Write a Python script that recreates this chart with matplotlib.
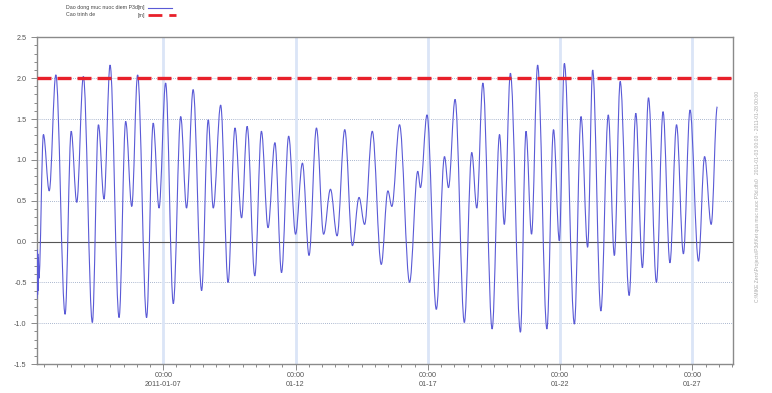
import matplotlib
matplotlib.use('Agg')
import matplotlib.pyplot as plt
import matplotlib.dates as mdates
from matplotlib.lines import Line2D
from matplotlib.path import Path
from matplotlib.patches import PathPatch
from matplotlib.ticker import MultipleLocator
import numpy as np
import pandas as pd

plt.rcParams['font.family'] = ['Liberation Sans', 'DejaVu Sans']

# water level extrema: day of January 2011 (decimal) and level [m]
jan_day = [2.23, 2.24, 2.25, 2.26, 2.27, 2.28, 2.30,
           2.47, 2.69, 2.94, 3.29, 3.52, 3.73, 3.98, 4.32, 4.55, 4.76,
           4.99, 5.33, 5.58, 5.81, 6.03, 6.37, 6.62, 6.84, 7.09, 7.38,
           7.66, 7.88, 8.13, 8.45, 8.70, 8.89, 9.17, 9.45, 9.71, 9.96,
           10.17, 10.46, 10.71, 10.96, 11.22, 11.47, 11.74, 12.00, 12.26, 12.51,
           12.79, 13.06, 13.32, 13.57, 13.86, 14.15, 14.40, 14.61, 14.90, 15.24,
           15.49, 15.64, 15.93, 16.31, 16.62, 16.72, 16.97, 17.32, 17.63, 17.78,
           18.03, 18.38, 18.66, 18.85, 19.08, 19.43, 19.71, 19.89, 20.12, 20.50,
           20.71, 20.92, 21.15, 21.50, 21.75, 21.97, 22.16, 22.54, 22.79, 23.04,
           23.23, 23.54, 23.82, 24.05, 24.27, 24.61, 24.86, 25.11, 25.34, 25.64,
           25.89, 26.15, 26.40, 26.66, 26.91, 27.23, 27.46, 27.71, 27.94]
water_level = [-0.70, -0.10, -0.65, -0.15, -0.60, -0.20, -0.45,
               1.31, 0.62, 2.04, -0.89, 1.35, 0.48, 2.02, -0.99, 1.43, 0.52,
               2.16, -0.93, 1.47, 0.43, 2.04, -0.93, 1.45, 0.41, 1.94, -0.76,
               1.53, 0.41, 1.86, -0.60, 1.49, 0.41, 1.67, -0.50, 1.39, 0.29,
               1.41, -0.42, 1.35, 0.17, 1.21, -0.38, 1.29, 0.09, 0.96, -0.17,
               1.39, 0.09, 0.64, 0.07, 1.37, -0.05, 0.54, 0.21, 1.35, -0.28,
               0.62, 0.43, 1.43, -0.50, 0.86, 0.66, 1.55, -0.83, 1.04, 0.66,
               1.74, -0.99, 1.09, 0.41, 1.94, -1.07, 1.31, 0.21, 2.06, -1.11,
               1.35, 0.09, 2.16, -1.07, 1.37, 0.01, 2.18, -1.01, 1.53, -0.07,
               2.10, -0.85, 1.55, -0.17, 1.96, -0.66, 1.57, -0.32, 1.76, -0.50,
               1.59, -0.26, 1.43, -0.15, 1.61, -0.24, 1.04, 0.21, 1.65]
levee_level = 2.0  # Cao trinh de [m]

x_range = [2.23, 28.52]
y_range = [-1.5, 2.5]

series_label = 'Dao dong muc nuoc diem P3d'
levee_label = 'Cao trinh de'
unit = '[m]'


def to_time(days):
    return pd.Timestamp('2011-01-01') + pd.to_timedelta(np.asarray(days) - 1, unit='D')


def tide_path(tx, y):
    # smooth curve through the turning points (flat at each high / low water)
    verts = [(tx[0], y[0])]
    codes = [Path.MOVETO]
    for i in range(1, len(tx)):
        dt = tx[i] - tx[i - 1]
        verts += [(tx[i - 1] + 0.36 * dt, y[i - 1]), (tx[i] - 0.36 * dt, y[i]), (tx[i], y[i])]
        codes += [Path.CURVE4] * 3
    return Path(verts, codes)


fig = plt.figure(figsize=(7.72, 3.93), dpi=100)
ax = fig.add_axes([0.048, 0.0735, 0.901, 0.8316])

t = mdates.date2num(to_time(jan_day))
ax.add_patch(PathPatch(tide_path(t, water_level), fill=False, edgecolor='#5a5ad6',
                       lw=0.8, zorder=3))
ax.axhline(levee_level, color='#e8202a', lw=2.4, dashes=(4.2, 1.8), zorder=4)

ax.xaxis_date()
ax.set_xlim(to_time(x_range))
ax.set_ylim(y_range)

# grid
for yv in np.arange(-1.0, 2.01, 0.5):
    if abs(yv) < 1e-9:
        ax.axhline(0, color='#555555', lw=0.8, zorder=2)
    else:
        ax.axhline(yv, color='#8fa0c0', lw=0.6, ls=(0, (1, 1.5)), zorder=1)
ax.xaxis.set_major_locator(mdates.DayLocator(bymonthday=[7, 12, 17, 22, 27]))
ax.xaxis.set_minor_locator(mdates.HourLocator(byhour=[0, 12]))
ax.grid(axis='x', which='major', color='#dbe5f7', lw=2.0, zorder=0)


def fmt(x, pos):
    d = mdates.num2date(x)
    if pos == 0:
        return d.strftime('%H:%M\n%Y-%m-%d')
    return d.strftime('%H:%M\n%m-%d')


ax.xaxis.set_major_formatter(plt.FuncFormatter(fmt))
ax.yaxis.set_major_locator(MultipleLocator(0.5))
ax.yaxis.set_minor_locator(MultipleLocator(0.1))
ax.yaxis.set_major_formatter(plt.FuncFormatter(lambda v, p: f'{v:.1f}'))

ax.tick_params(which='both', direction='out', colors='#777777', labelcolor='#555555',
               labelsize=5.2, width=0.6)
ax.tick_params(which='major', length=4)
ax.tick_params(which='minor', length=2)
ax.tick_params(axis='x', pad=2)
for lab in ax.get_xticklabels():
    lab.set_linespacing(1.3)
for s in ax.spines.values():
    s.set_color('#8a8a8a')
    s.set_linewidth(1.0)

# legend above the plot
fs = 3.8
fig.text(66 / 772, 1 - 8 / 393, series_label, fontsize=fs, color='#444444', va='center')
fig.text(66 / 772, 1 - 15 / 393, levee_label, fontsize=fs, color='#444444', va='center')
fig.text(138 / 772, 1 - 8 / 393, unit, fontsize=fs, color='#444444', va='center')
fig.text(138 / 772, 1 - 15 / 393, unit, fontsize=fs, color='#444444', va='center')
fig.add_artist(Line2D([148 / 772, 172 / 772], [1 - 8 / 393, 1 - 8 / 393],
                      color='#5a5ad6', lw=0.8, transform=fig.transFigure))
fig.add_artist(Line2D([148 / 772, 176 / 772], [1 - 15 / 393, 1 - 15 / 393],
                      color='#e8202a', lw=2.0, dashes=(5, 2.5), transform=fig.transFigure))

# faint side note on the right
fig.text(758 / 772, 0.5, 'C:\\MIKE Zero\\Projects\\P3d\\Ket qua muc nuoc P3d.dfs0   '
         '2011-01-03 00:00 - 2011-01-28 00:00',
         rotation=90, fontsize=3.6, color='#aaaaaa', ha='center', va='center')

fig.savefig('out.png', dpi=100)
